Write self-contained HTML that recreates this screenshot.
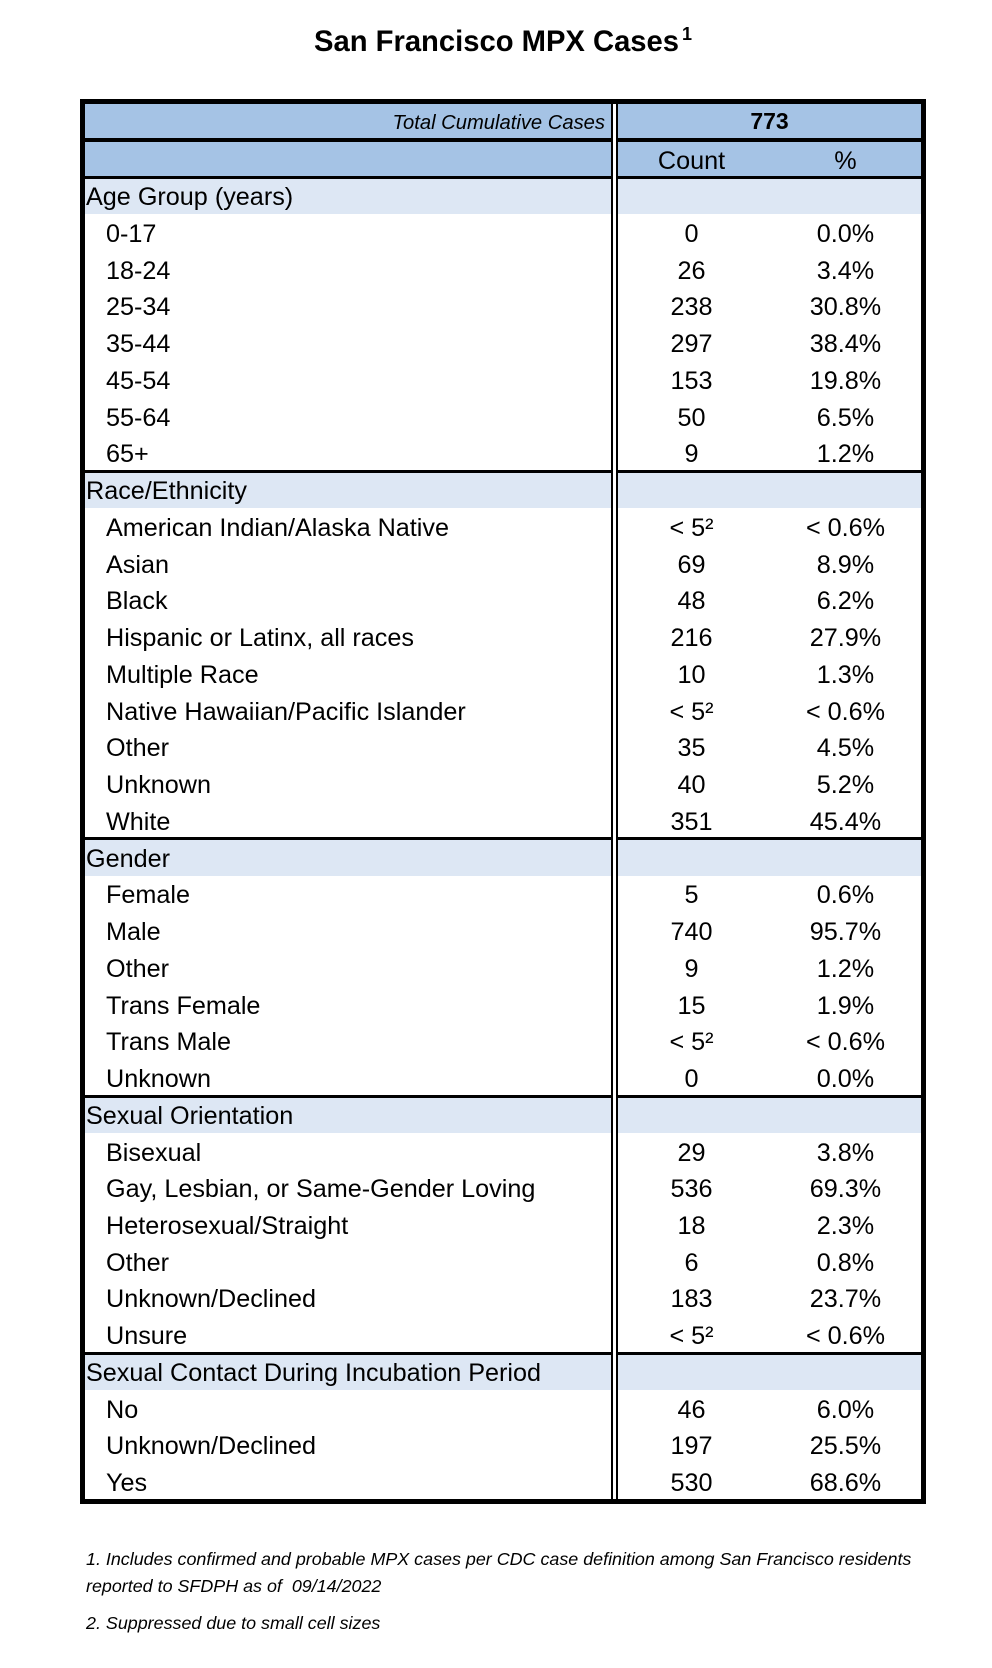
<!DOCTYPE html>
<html>
<head>
<meta charset="utf-8">
<style>
html,body{margin:0;padding:0;background:#fff;}
body{width:992px;height:1668px;position:relative;overflow:hidden;}
.t{position:absolute;font-family:"Liberation Sans",sans-serif;line-height:1;white-space:nowrap;color:#000;}
.d{font-size:25.2px;}
.lab{left:86px;}
.item{left:106px;}
.c{left:618px;width:147px;text-align:center;}
.p{left:765px;width:161px;text-align:center;}
.bg{position:absolute;}
.hb{background:#A5C3E5;}
.lb{background:#DDE7F4;}
.k{background:#000;position:absolute;}
.fn{font-size:17.9px;font-style:italic;left:86px;}
.rows{position:absolute;left:0;top:2px;width:992px;height:1500px;}
</style>
</head>
<body>

<!-- Title -->
<div class="t" style="left:314px;top:27.5px;font-size:29.2px;font-weight:bold;">San Francisco MPX Cases</div>
<div class="t" style="left:682px;top:24.5px;font-size:18px;font-weight:bold;">1</div>

<!-- Header backgrounds -->
<div class="bg hb" style="left:85px;top:104px;width:836px;height:34px;"></div>
<div class="bg hb" style="left:85px;top:142px;width:836px;height:34px;"></div>
<div class="k" style="left:85px;top:138px;width:836px;height:4px;"></div>
<div class="k" style="left:85px;top:176px;width:836px;height:3px;"></div>

<!-- Section header backgrounds and lines -->
<div class="bg lb" style="left:85px;top:179px;width:836px;height:35.24px;"></div>

<div class="k" style="left:85px;top:469.9px;width:836px;height:3px;"></div>
<div class="bg lb" style="left:85px;top:472.9px;width:836px;height:35.26px;"></div>

<div class="k" style="left:85px;top:837.3px;width:836px;height:3px;"></div>
<div class="bg lb" style="left:85px;top:840.3px;width:836px;height:35.26px;"></div>

<div class="k" style="left:85px;top:1094.5px;width:836px;height:3px;"></div>
<div class="bg lb" style="left:85px;top:1097.5px;width:836px;height:35.24px;"></div>

<div class="k" style="left:85px;top:1351.7px;width:836px;height:3px;"></div>
<div class="bg lb" style="left:85px;top:1354.7px;width:836px;height:35.22px;"></div>

<!-- Double vertical line -->
<div class="bg" style="left:613.4px;top:104px;width:2.3px;height:1395px;background:#fff;"></div>
<div class="k" style="left:611px;top:104px;width:2.4px;height:1395px;"></div>
<div class="k" style="left:615.7px;top:104px;width:2.6px;height:1395px;"></div>

<!-- Outer border -->
<div style="position:absolute;left:80px;top:99px;width:846px;height:1405px;border:5px solid #000;box-sizing:border-box;"></div>

<!-- Header text -->
<div class="t" style="right:387px;top:113.2px;font-size:20.2px;font-style:italic;">Total Cumulative Cases</div>
<div class="t" style="left:618px;width:303px;text-align:center;top:109.8px;font-size:23px;font-weight:bold;">773</div>
<div class="t d c" style="top:149.3px;">Count</div>
<div class="t d p" style="top:149.3px;">%</div>

<div class="rows">
<!-- Rows -->
<div class="t d lab" style="top:183.27px;">Age Group (years)</div>

<div class="t d item" style="top:220.01px;">0-17</div><div class="t d c" style="top:220.01px;">0</div><div class="t d p" style="top:220.01px;">0.0%</div>
<div class="t d item" style="top:256.75px;">18-24</div><div class="t d c" style="top:256.75px;">26</div><div class="t d p" style="top:256.75px;">3.4%</div>
<div class="t d item" style="top:293.49px;">25-34</div><div class="t d c" style="top:293.49px;">238</div><div class="t d p" style="top:293.49px;">30.8%</div>
<div class="t d item" style="top:330.23px;">35-44</div><div class="t d c" style="top:330.23px;">297</div><div class="t d p" style="top:330.23px;">38.4%</div>
<div class="t d item" style="top:366.97px;">45-54</div><div class="t d c" style="top:366.97px;">153</div><div class="t d p" style="top:366.97px;">19.8%</div>
<div class="t d item" style="top:403.71px;">55-64</div><div class="t d c" style="top:403.71px;">50</div><div class="t d p" style="top:403.71px;">6.5%</div>
<div class="t d item" style="top:440.45px;">65+</div><div class="t d c" style="top:440.45px;">9</div><div class="t d p" style="top:440.45px;">1.2%</div>

<div class="t d lab" style="top:477.19px;">Race/Ethnicity</div>
<div class="t d item" style="top:513.93px;">American Indian/Alaska Native</div><div class="t d c" style="top:513.93px;">&lt; 5²</div><div class="t d p" style="top:513.93px;">&lt; 0.6%</div>
<div class="t d item" style="top:550.67px;">Asian</div><div class="t d c" style="top:550.67px;">69</div><div class="t d p" style="top:550.67px;">8.9%</div>
<div class="t d item" style="top:587.41px;">Black</div><div class="t d c" style="top:587.41px;">48</div><div class="t d p" style="top:587.41px;">6.2%</div>
<div class="t d item" style="top:624.15px;">Hispanic or Latinx, all races</div><div class="t d c" style="top:624.15px;">216</div><div class="t d p" style="top:624.15px;">27.9%</div>
<div class="t d item" style="top:660.89px;">Multiple Race</div><div class="t d c" style="top:660.89px;">10</div><div class="t d p" style="top:660.89px;">1.3%</div>
<div class="t d item" style="top:697.63px;">Native Hawaiian/Pacific Islander</div><div class="t d c" style="top:697.63px;">&lt; 5²</div><div class="t d p" style="top:697.63px;">&lt; 0.6%</div>
<div class="t d item" style="top:734.37px;">Other</div><div class="t d c" style="top:734.37px;">35</div><div class="t d p" style="top:734.37px;">4.5%</div>
<div class="t d item" style="top:771.11px;">Unknown</div><div class="t d c" style="top:771.11px;">40</div><div class="t d p" style="top:771.11px;">5.2%</div>
<div class="t d item" style="top:807.85px;">White</div><div class="t d c" style="top:807.85px;">351</div><div class="t d p" style="top:807.85px;">45.4%</div>

<div class="t d lab" style="top:844.59px;">Gender</div>
<div class="t d item" style="top:881.33px;">Female</div><div class="t d c" style="top:881.33px;">5</div><div class="t d p" style="top:881.33px;">0.6%</div>
<div class="t d item" style="top:918.07px;">Male</div><div class="t d c" style="top:918.07px;">740</div><div class="t d p" style="top:918.07px;">95.7%</div>
<div class="t d item" style="top:954.81px;">Other</div><div class="t d c" style="top:954.81px;">9</div><div class="t d p" style="top:954.81px;">1.2%</div>
<div class="t d item" style="top:991.55px;">Trans Female</div><div class="t d c" style="top:991.55px;">15</div><div class="t d p" style="top:991.55px;">1.9%</div>
<div class="t d item" style="top:1028.29px;">Trans Male</div><div class="t d c" style="top:1028.29px;">&lt; 5²</div><div class="t d p" style="top:1028.29px;">&lt; 0.6%</div>
<div class="t d item" style="top:1065.03px;">Unknown</div><div class="t d c" style="top:1065.03px;">0</div><div class="t d p" style="top:1065.03px;">0.0%</div>

<div class="t d lab" style="top:1101.77px;">Sexual Orientation</div>
<div class="t d item" style="top:1138.51px;">Bisexual</div><div class="t d c" style="top:1138.51px;">29</div><div class="t d p" style="top:1138.51px;">3.8%</div>
<div class="t d item" style="top:1175.25px;">Gay, Lesbian, or Same-Gender Loving</div><div class="t d c" style="top:1175.25px;">536</div><div class="t d p" style="top:1175.25px;">69.3%</div>
<div class="t d item" style="top:1211.99px;">Heterosexual/Straight</div><div class="t d c" style="top:1211.99px;">18</div><div class="t d p" style="top:1211.99px;">2.3%</div>
<div class="t d item" style="top:1248.73px;">Other</div><div class="t d c" style="top:1248.73px;">6</div><div class="t d p" style="top:1248.73px;">0.8%</div>
<div class="t d item" style="top:1285.47px;">Unknown/Declined</div><div class="t d c" style="top:1285.47px;">183</div><div class="t d p" style="top:1285.47px;">23.7%</div>
<div class="t d item" style="top:1322.21px;">Unsure</div><div class="t d c" style="top:1322.21px;">&lt; 5²</div><div class="t d p" style="top:1322.21px;">&lt; 0.6%</div>

<div class="t d lab" style="top:1358.95px;">Sexual Contact During Incubation Period</div>
<div class="t d item" style="top:1395.69px;">No</div><div class="t d c" style="top:1395.69px;">46</div><div class="t d p" style="top:1395.69px;">6.0%</div>
<div class="t d item" style="top:1432.43px;">Unknown/Declined</div><div class="t d c" style="top:1432.43px;">197</div><div class="t d p" style="top:1432.43px;">25.5%</div>
<div class="t d item" style="top:1469.17px;">Yes</div><div class="t d c" style="top:1469.17px;">530</div><div class="t d p" style="top:1469.17px;">68.6%</div>
</div>

<!-- Footnotes -->
<div class="t fn" style="top:1551.3px;">1. Includes confirmed and probable MPX cases per CDC case definition among San Francisco residents</div>
<div class="t fn" style="top:1577.9px;white-space:pre;">reported to SFDPH as of  09/14/2022</div>
<div class="t fn" style="top:1615.2px;">2. Suppressed due to small cell sizes</div>

</body>
</html>
